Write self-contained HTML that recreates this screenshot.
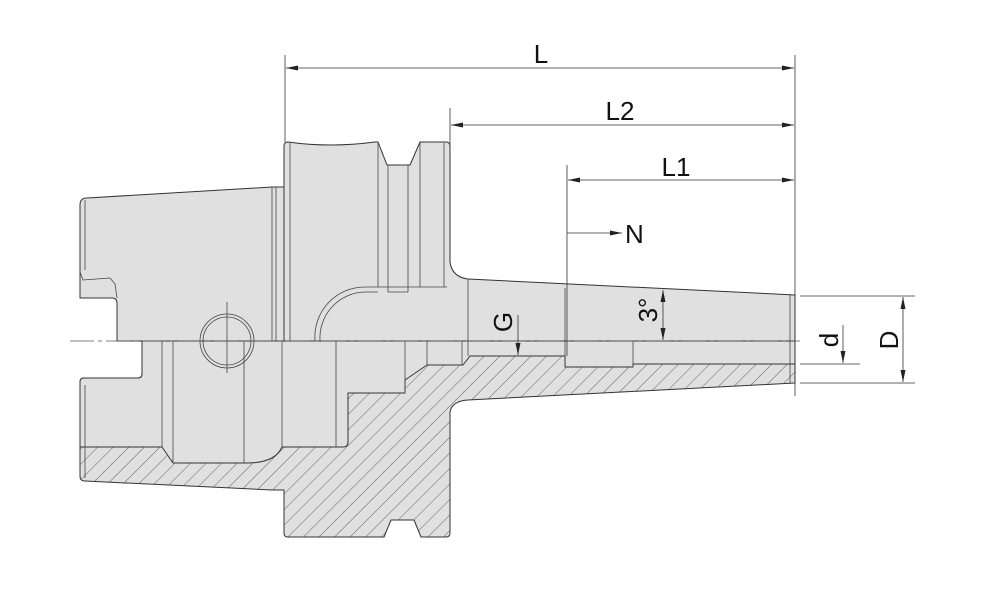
<!DOCTYPE html>
<html><head><style>html,body{margin:0;padding:0;background:#fff}svg{display:block}</style></head><body>
<svg width="990" height="592" viewBox="0 0 990 592" xmlns="http://www.w3.org/2000/svg" font-family="Liberation Sans, sans-serif">
<defs>
<pattern id="h" patternUnits="userSpaceOnUse" width="11" height="11" patternTransform="rotate(45)">
<rect width="11" height="11" fill="#e0e0e0"/><line x1="0" y1="0" x2="0" y2="11" stroke="#555" stroke-width="0.9"/>
</pattern>
<marker id="a" markerWidth="12" markerHeight="8" refX="12" refY="4" orient="auto-start-reverse" markerUnits="userSpaceOnUse"><path d="M0,1.5 L12,4 L0,6.5z" fill="#222"/></marker>
</defs>
<g stroke="#333" stroke-width="1" fill="#e0e0e0" stroke-linejoin="round">
<path fill="url(#h)" d="M80,382 Q80,378 84,378 L138,378 Q142,378 142,374 L142,341 L795,341 L795,383 L468,400 Q452,401 450,412 L450,533 Q450,537 446,537 L421,537 L414,520 L391,520 L384,537 L288,537 Q284,537 284,533 L284,490 L272,490 L85,481 Q80,481 80,476 Z"/>
<path d="M142,341 L142,374 Q142,378 138,378 L84,378 Q80,378 80,382 L80,447 L162,447 L173,463 L247,463 Q275,463 282,447 L343,447 Q348,447 348,442 L348,393 L405,393 L405,380 L427,365 L463,365 L470,356 L565,356 L565,367 L633,367 L633,364 L795,364 L795,341 Z"/>
<path d="M80,298 L80,205 Q80,198 87,198 L272,187 L284,187 L284,341 L117,341 L117,303 Q117,298 112,298 Z"/>
<path d="M284,341 L284,146 Q284,142 288,142 Q330,148 375,142 L378,142 L387,165 L410,165 L420,142 L446,142 Q450,142 450,146 L450,262 Q452,277 468,279 L795,295 L795,341 Z"/>
</g>
<g stroke="#444" stroke-width="0.8" fill="none">
<path d="M80,272 L83,280 L110,278 L115,284 L117,298"/>
<line x1="272" y1="187" x2="272" y2="341"/><line x1="276" y1="187" x2="276" y2="341"/>
<line x1="290" y1="143" x2="290" y2="341"/>
<line x1="378" y1="142" x2="378" y2="287"/>
<line x1="388" y1="165" x2="388" y2="292"/><line x1="408" y1="165" x2="408" y2="292"/>
<line x1="420" y1="142" x2="420" y2="287"/><line x1="444" y1="143" x2="444" y2="287"/>
<path d="M365,287 L447,287"/><path d="M388,292 L408,292"/>
<path d="M315,341 A50,50 0 0 1 365,287"/><path d="M320,341 A46,46 0 0 1 365,292 L378,292"/>
<line x1="468" y1="279" x2="468" y2="356"/>
<line x1="565" y1="288" x2="565" y2="356"/>
<line x1="633" y1="341" x2="633" y2="367"/>
<line x1="790" y1="295" x2="790" y2="383"/>
<line x1="162" y1="341" x2="162" y2="447"/><line x1="173" y1="341" x2="173" y2="463"/>
<line x1="244" y1="341" x2="244" y2="463"/><line x1="282" y1="341" x2="282" y2="447"/>
<line x1="336" y1="341" x2="336" y2="447"/>
<line x1="85" y1="385" x2="85" y2="478"/><line x1="85" y1="200" x2="85" y2="270"/>
<line x1="405" y1="341" x2="405" y2="393"/><line x1="427" y1="341" x2="427" y2="365"/>
<line x1="462" y1="341" x2="462" y2="365"/>
<circle cx="227" cy="341" r="24"/><circle cx="227" cy="341" r="27"/>
<line x1="227" y1="302" x2="227" y2="373"/>
</g>
<line x1="70" y1="341" x2="800" y2="341" stroke="#555" stroke-width="0.8" stroke-dasharray="24,4,4,4"/>
<g stroke="#333" stroke-width="0.8" fill="none">
<line x1="285" y1="55" x2="285" y2="142"/><line x1="795" y1="55" x2="795" y2="396"/>
<line x1="450" y1="108" x2="450" y2="262"/><line x1="567" y1="165" x2="567" y2="356"/>
<line x1="286" y1="68" x2="794" y2="68" marker-start="url(#a)" marker-end="url(#a)"/>
<line x1="451" y1="125" x2="794" y2="125" marker-start="url(#a)" marker-end="url(#a)"/>
<line x1="568" y1="180" x2="794" y2="180" marker-start="url(#a)" marker-end="url(#a)"/>
<line x1="567" y1="233" x2="622" y2="233" marker-end="url(#a)"/>
<line x1="800" y1="296" x2="915" y2="296"/><line x1="800" y1="383" x2="915" y2="383"/>
<line x1="903" y1="297" x2="903" y2="382" marker-start="url(#a)" marker-end="url(#a)"/>
<line x1="800" y1="364" x2="860" y2="364"/>
<line x1="843" y1="325" x2="843" y2="363" marker-end="url(#a)"/>
<line x1="663" y1="290" x2="663" y2="340" marker-start="url(#a)" marker-end="url(#a)"/>
<line x1="518" y1="315" x2="518" y2="355" marker-end="url(#a)"/>
</g>
<g fill="#111" font-size="26">
<text x="541" y="63" text-anchor="middle">L</text>
<text x="620" y="120" text-anchor="middle">L2</text>
<text x="676" y="176" text-anchor="middle">L1</text>
<text x="625" y="243">N</text>
<text transform="translate(898,340) rotate(-90)" text-anchor="middle">D</text>
<text transform="translate(838,340) rotate(-90)" text-anchor="middle">d</text>
<text transform="translate(657,310) rotate(-90)" text-anchor="middle">3°</text>
<text transform="translate(512,322) rotate(-90)" text-anchor="middle">G</text>
</g>
</svg>
</body></html>
